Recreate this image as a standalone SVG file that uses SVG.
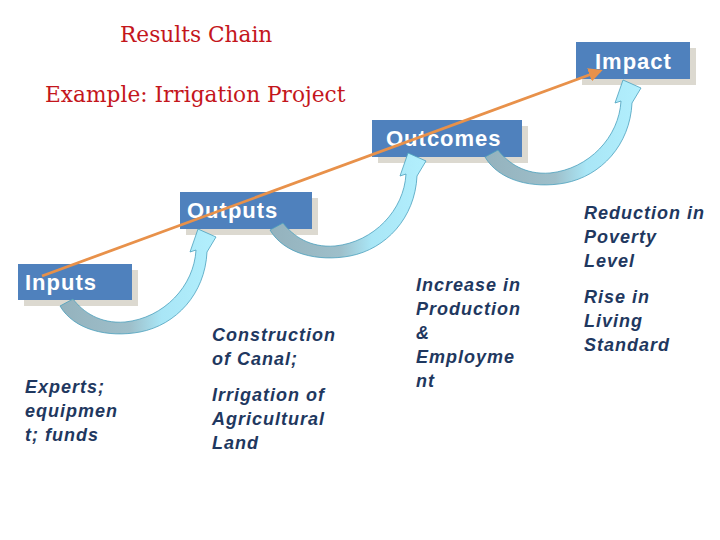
<svg xmlns="http://www.w3.org/2000/svg" width="720" height="540" viewBox="0 0 720 540">
<style>
.title{font-family:"DejaVu Serif",Georgia,serif;font-size:21.7px;fill:#c4161c}
.box{fill:#4f81bd}
.shadow{fill:#dcd9d0}
.lbl{font-family:"Liberation Sans",Arial,sans-serif;font-size:22px;font-weight:bold;fill:#ffffff;letter-spacing:1px}
.txt{font-family:"Liberation Sans",Arial,sans-serif;font-size:18px;font-weight:bold;font-style:italic;fill:#1f3860;letter-spacing:1px}
.carrow{fill:url(#cg);stroke:#4a9fbd;stroke-width:0.8}
</style>
<defs>
<linearGradient id="cg" x1="0" y1="0" x2="1" y2="0">
<stop offset="0" stop-color="#94b2bd"/>
<stop offset="0.45" stop-color="#9ebfca"/>
<stop offset="0.65" stop-color="#a9e6f6"/>
<stop offset="1" stop-color="#b2effd"/>
</linearGradient>
<marker id="oh" viewBox="0 0 10 10" refX="8" refY="5" markerWidth="5" markerHeight="5" orient="auto" markerUnits="strokeWidth">
<path d="M0,0 L10,5 L0,10 Z" fill="#e8914a"/>
</marker>
<path id="curve" class="carrow" d="M60,306 C74,330 108,338 140,332 C176,325 205,294 207,252 L216,237 L198,229 L190,252 L196,250 C194,286 164,318 125,322 C100,324 83,312 73,299 Z"/>
</defs>
<text class="title" x="120" y="42">Results Chain</text>
<text class="title" x="45" y="102">Example: Irrigation Project</text>
<g id="inputs">
<rect class="shadow" x="24" y="270" width="114" height="36"/>
<rect class="box" x="18" y="264" width="114" height="36"/>
<text class="lbl" x="25" y="290">Inputs</text>
</g>
<g id="outputs">
<rect class="shadow" x="186" y="198" width="132" height="37"/>
<rect class="box" x="180" y="192" width="132" height="37"/>
<text class="lbl" x="187" y="218">Outputs</text>
</g>
<g id="outcomes">
<rect class="shadow" x="378" y="126" width="150" height="37"/>
<rect class="box" x="372" y="120" width="150" height="37"/>
<text class="lbl" x="386" y="146">Outcomes</text>
</g>
<g id="impact">
<rect class="shadow" x="582" y="48" width="114" height="37"/>
<rect class="box" x="576" y="42" width="114" height="37"/>
<text class="lbl" x="595" y="69">Impact</text>
</g>
<g id="connectors">
<use href="#curve"/>
<use href="#curve" transform="translate(210,-76)"/>
<use href="#curve" transform="translate(425,-149)"/>
<line x1="42" y1="276" x2="600" y2="71" stroke="#e8914a" stroke-width="2.8" marker-end="url(#oh)"/>
</g>
<g id="texts">
<text class="txt" x="25" y="393">Experts;</text>
<text class="txt" x="25" y="417">equipmen</text>
<text class="txt" x="25" y="441">t; funds</text>
<text class="txt" x="212" y="341">Construction</text>
<text class="txt" x="212" y="365">of Canal;</text>
<text class="txt" x="212" y="401">Irrigation of</text>
<text class="txt" x="212" y="425">Agricultural</text>
<text class="txt" x="212" y="449">Land</text>
<text class="txt" x="416" y="291">Increase in</text>
<text class="txt" x="416" y="315">Production</text>
<text class="txt" x="416" y="339">&amp;</text>
<text class="txt" x="416" y="363">Employme</text>
<text class="txt" x="416" y="387">nt</text>
<text class="txt" x="584" y="219">Reduction in</text>
<text class="txt" x="584" y="243">Poverty</text>
<text class="txt" x="584" y="267">Level</text>
<text class="txt" x="584" y="303">Rise in</text>
<text class="txt" x="584" y="327">Living</text>
<text class="txt" x="584" y="351">Standard</text>
</g>
</svg>
